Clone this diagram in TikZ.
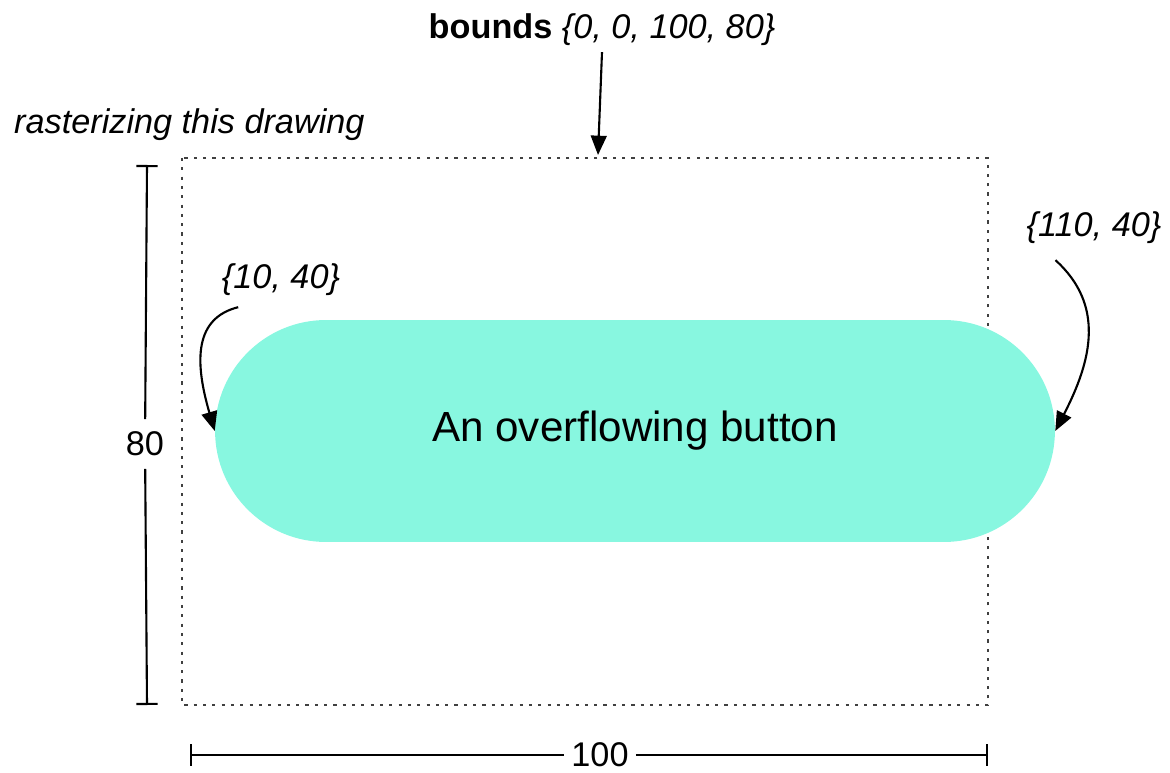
\documentclass[tikz,border=0pt]{standalone}
\usepackage{fontspec}
\setmainfont{Liberation Sans}
\usetikzlibrary{arrows.meta}
\definecolor{btncolor}{RGB}{136,247,224}
\tikzset{
  tip/.style={-{Triangle[length=11pt,width=9pt]},line width=1.2pt},
  dimline/.style={line width=1.2pt},
  note/.style={font=\fontsize{19.5}{23}\selectfont},
}
\begin{document}
\begin{tikzpicture}[x=0.02cm,y=-0.02cm]
    \useasboundingbox (0,0) rectangle (1170,773);
    % the drawing bounds
    \coordinate (tl) at (182,158);
    \coordinate (br) at (988,705);
    \coordinate (topmid) at (598,155);
    \draw[black!75,line width=1.4pt,dash pattern=on 1.8pt off 3.5pt] (tl) rectangle (br);
    \node[fill=btncolor,minimum width=16.8cm,minimum height=4.44cm,rounded corners=2.22cm,font=\fontsize{24}{28}\selectfont](btn) at (635,431){An overflowing button};

    \node[note](bounds) at (602,30){\textbf{bounds} \textit{\{0, 0, 100, 80\}}};
    \node[note,anchor=west](raster) at (8,125){\textit{rasterizing this drawing}};
    \node[note](lpt) at (281,280){\textit{\{10, 40\}}};
    \node[note](rpt) at (1094,228){\textit{\{110, 40\}}};
    \draw[tip] (bounds.south) -- (topmid);
    \draw[tip] ([xshift=.45cm,yshift=-.1cm]lpt.south west) .. controls (195,318) and (194,360) .. (btn.west);
    \draw[tip] ([xshift=.7cm,yshift=-.2cm]rpt.south west) .. controls (1105,305) and (1092,360) .. (btn.east);

    % dimensions
    \coordinate (vtop) at (147,165);
    \coordinate (vbot) at (147,705);
    \node[note,inner sep=7pt](h80) at (145,444){80};
    \draw[dimline,{Bar[width=12pt]}-] (vtop) -- (h80);
    \draw[dimline,-{Bar[width=12pt]}] (h80) -- (vbot);
    \coordinate (hleft) at (190,755);
    \coordinate (hright) at (988,755);
    \node[note,inner sep=4pt](w100) at (600,755){100};
    \draw[dimline,{Bar[width=12pt]}-] (hleft) -- (w100);
    \draw[dimline,-{Bar[width=12pt]}] (w100) -- (hright);
\end{tikzpicture}
\end{document}
